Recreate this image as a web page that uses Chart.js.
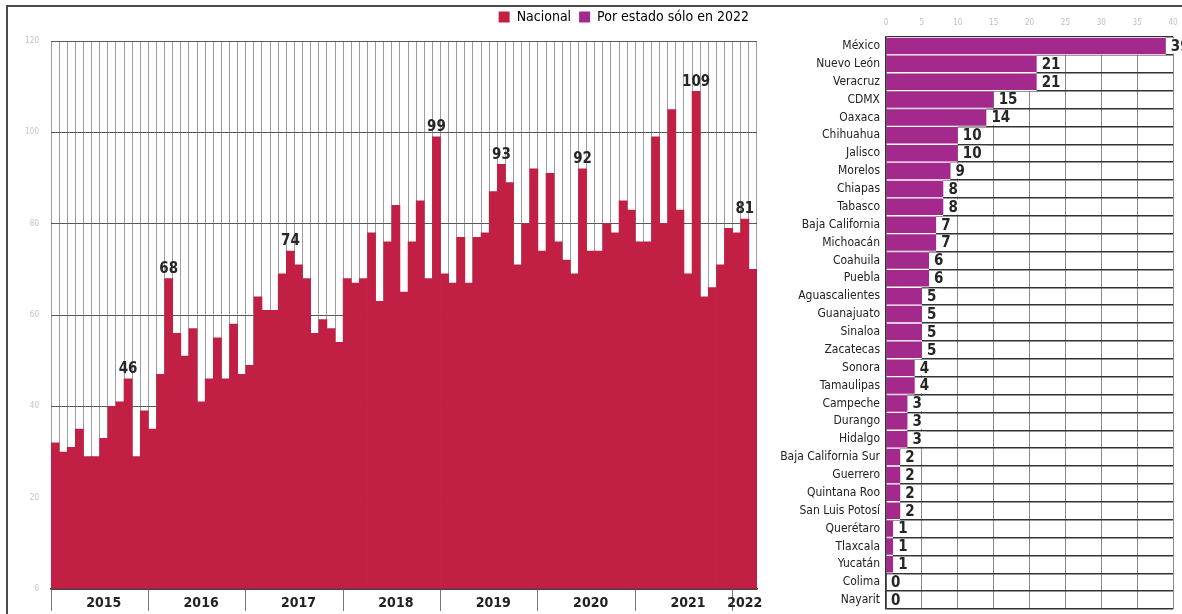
<!DOCTYPE html>
<html lang="es">
<head>
<meta charset="utf-8">
<title>Nacional y por estado</title>
<script src="https://cdn.jsdelivr.net/npm/chart.js@4.4.1/dist/chart.umd.min.js"></script>
<style>
  html, body { margin: 0; padding: 0; background: #fff; }
  #lienzo { position: relative; width: 1182px; height: 614px; overflow: hidden; }
  #marco { position: absolute; left: 6px; top: 5px; width: 1200px; height: 640px;
           border-top: 2px solid #4a4a4a; border-left: 2px solid #4a4a4a; }
  #caja_nacional { position: absolute; left: 0; top: 0; width: 770px; height: 614px; }
  #caja_estados { position: absolute; left: 770px; top: 0; width: 412px; height: 614px; }
</style>
</head>
<body>
<div id="lienzo">
  <div id="caja_nacional"><canvas id="_nacional"></canvas></div>
  <div id="caja_estados"><canvas id="_estados"></canvas></div>
  <div id="marco"></div>
</div>
<script>
// serie nacional, un valor por mes
const anios = ['2015', '2016', '2017', '2018', '2019', '2020', '2021', '2022'];
const meses = ['ene', 'feb', 'mar', 'abr', 'may', 'jun', 'jul', 'ago', 'sep', 'oct', 'nov', 'dic'];
const nacional_2015 = [32, 30, 31, 35, 29, 29, 33, 40, 41, 46, 29, 39];
const nacional_2016 = [35, 47, 68, 56, 51, 57, 41, 46, 55, 46, 58, 47];
const nacional_2017 = [49, 64, 61, 61, 69, 74, 71, 68, 56, 59, 57, 54];
const nacional_2018 = [68, 67, 68, 78, 63, 76, 84, 65, 76, 85, 68, 99];
const nacional_2019 = [69, 67, 77, 67, 77, 78, 87, 93, 89, 71, 80, 92];
const nacional_2020 = [74, 91, 76, 72, 69, 92, 74, 74, 80, 78, 85, 83];
const nacional_2021 = [76, 76, 99, 80, 105, 83, 69, 109, 64, 66, 71, 79];
const nacional_2022 = [78, 81, 70];
// meses con cifra escrita encima (posicion en la serie completa)
const destacados = [9, 14, 29, 47, 55, 65, 79, 85];
const y_ticks = [0, 20, 40, 60, 80, 100, 120];

// por estado, solo 2022
const estados = ['México', 'Nuevo León', 'Veracruz', 'CDMX', 'Oaxaca', 'Chihuahua', 'Jalisco', 'Morelos',
  'Chiapas', 'Tabasco', 'Baja California', 'Michoacán', 'Coahuila', 'Puebla', 'Aguascalientes',
  'Guanajuato', 'Sinaloa', 'Zacatecas', 'Sonora', 'Tamaulipas', 'Campeche', 'Durango', 'Hidalgo',
  'Baja California Sur', 'Guerrero', 'Quintana Roo', 'San Luis Potosí', 'Querétaro', 'Tlaxcala',
  'Yucatán', 'Colima', 'Nayarit'];
const casos_2022 = [39, 21, 21, 15, 14, 10, 10, 9, 8, 8, 7, 7, 6, 6, 5, 5, 5, 5, 4, 4, 3, 3, 3, 2, 2, 2, 2, 1, 1, 1, 0, 0];
const x_ticks_estados = [0, 5, 10, 15, 20, 25, 30, 35, 40];

const rojo = '#c21f44';
const morado = '#a4298c';
const fuente = "'DejaVu Sans Condensed', 'Liberation Sans Narrow', 'DejaVu Sans', sans-serif";
Chart.defaults.font.family = fuente;

const series = [nacional_2015, nacional_2016, nacional_2017, nacional_2018,
  nacional_2019, nacional_2020, nacional_2021, nacional_2022];
let nacional = [];
let etiquetas = [];
let inicio_anio = [];   // indice del primer mes de cada año
let centro_anio = {};   // indice donde se escribe el año
series.forEach((serie, a) => {
  inicio_anio.push(nacional.length);
  centro_anio[nacional.length + Math.floor(serie.length / 2)] = anios[a];
  serie.forEach((v, m) => {
    etiquetas.push(meses[m] + ' ' + anios[a]);
    nacional.push(v);
  });
});

// deja un poco mas de aire bajo la leyenda
const espacioLeyenda = {
  id: 'espacioLeyenda',
  beforeInit(chart) {
    const fit = chart.legend.fit;
    chart.legend.fit = function () {
      fit.bind(chart.legend)();
      this.height += 7;
    };
  }
};

const cifrasNacional = {
  id: 'cifrasNacional',
  afterDatasetsDraw(chart) {
    const meta = chart.getDatasetMeta(0);
    const ctx = chart.ctx;
    ctx.save();
    ctx.font = 'bold 15px ' + fuente;
    ctx.fillStyle = '#262626';
    ctx.textAlign = 'center';
    ctx.textBaseline = 'bottom';
    destacados.forEach(i => {
      const bar = meta.data[i];
      ctx.fillText(String(nacional[i]), bar.x, bar.y - 2);
    });
    ctx.restore();
  }
};

const cifrasEstados = {
  id: 'cifrasEstados',
  afterDatasetsDraw(chart) {
    const meta = chart.getDatasetMeta(0);
    const ctx = chart.ctx;
    ctx.save();
    ctx.font = 'bold 15px ' + fuente;
    ctx.textAlign = 'left';
    ctx.textBaseline = 'middle';
    meta.data.forEach((bar, i) => {
      const txt = String(casos_2022[i]);
      const w = ctx.measureText(txt).width;
      ctx.fillStyle = '#fff';
      ctx.fillRect(bar.x + 1, bar.y - bar.height / 2 + 1.5, w + 8, bar.height - 3);
      ctx.fillStyle = '#262626';
      ctx.fillText(txt, bar.x + 5, bar.y + 1);
    });
    ctx.restore();
  }
};

var nacional_chart = new Chart(document.getElementById('_nacional'), {
  type: 'bar',
  data: {
    labels: etiquetas,
    datasets: [
      {
        label: 'Nacional',
        data: nacional,
        backgroundColor: rojo,
        borderWidth: 0,
        barPercentage: 1,
        categoryPercentage: 1
      }
    ]
  },
  options: {
    responsive: true,
    maintainAspectRatio: false,
    animation: false,
    layout: { padding: { left: 0, right: 13, top: 2, bottom: 0 } },
    scales: {
      x: {
        grid: {
          offset: true,
          color: '#9c9c9c',
          lineWidth: 1,
          tickLength: 22,
          tickColor: ctx => inicio_anio.includes(ctx.index) ? '#777' : 'rgba(0,0,0,0)'
        },
        border: { color: '#333', width: 1.5 },
        ticks: {
          autoSkip: false,
          maxRotation: 0,
          padding: -16,
          color: '#222',
          font: { size: 14, weight: 'bold' },
          callback: (v, i) => centro_anio[i] || ''
        },
        afterFit: s => { s.height = 25; }
      },
      y: {
        min: 0,
        max: 120,
        afterBuildTicks: s => { s.ticks = y_ticks.map(v => ({ value: v })); },
        ticks: { color: '#c4c4c4', font: { size: 8 }, padding: 12 },
        grid: { color: '#5a5a5a', drawTicks: false },
        border: { display: false },
        afterFit: s => { s.width = 51; }
      }
    },
    plugins: {
      legend: {
        position: 'top',
        align: 'end',
        onClick: null,
        labels: {
          boxWidth: 11,
          boxHeight: 11,
          padding: 8,
          color: '#333',
          font: { size: 14 },
          generateLabels: () => [
            { text: 'Nacional', fillStyle: rojo, strokeStyle: rojo, lineWidth: 0, hidden: false },
            { text: 'Por estado sólo en 2022', fillStyle: morado, strokeStyle: morado, lineWidth: 0, hidden: false }
          ]
        }
      },
      tooltip: { enabled: false }
    }
  },
  plugins: [espacioLeyenda, cifrasNacional]
});

var estados_chart = new Chart(document.getElementById('_estados'), {
  type: 'bar',
  data: {
    labels: estados,
    datasets: [
      {
        label: 'Por estado sólo en 2022',
        data: casos_2022,
        backgroundColor: morado,
        borderColor: '#fff',
        borderWidth: { top: 1, bottom: 1, left: 0, right: 0 },
        barPercentage: 1,
        categoryPercentage: 1
      }
    ]
  },
  options: {
    indexAxis: 'y',
    responsive: true,
    maintainAspectRatio: false,
    animation: false,
    layout: { padding: { left: 0, right: 9, top: 0, bottom: 5 } },
    scales: {
      x: {
        position: 'top',
        min: 0,
        max: 40,
        afterBuildTicks: s => { s.ticks = x_ticks_estados.map(v => ({ value: v })); },
        ticks: { color: '#c0c0c0', font: { size: 8 }, padding: 9 },
        grid: { color: '#8a8a8a', drawTicks: false },
        border: { display: false },
        afterFit: s => { s.height = 37; s.paddingLeft = 0; s.paddingRight = 0; }
      },
      y: {
        grid: { offset: true, color: '#333', lineWidth: 1.5, drawTicks: false },
        border: { color: '#333', width: 1.5 },
        ticks: { autoSkip: false, color: '#222', font: { size: 12 }, padding: 6 },
        afterFit: s => { s.width = 116; s.paddingTop = 0; s.paddingBottom = 0; }
      }
    },
    plugins: {
      legend: { display: false },
      tooltip: { enabled: false }
    }
  },
  plugins: [cifrasEstados]
});
</script>
</body>
</html>
